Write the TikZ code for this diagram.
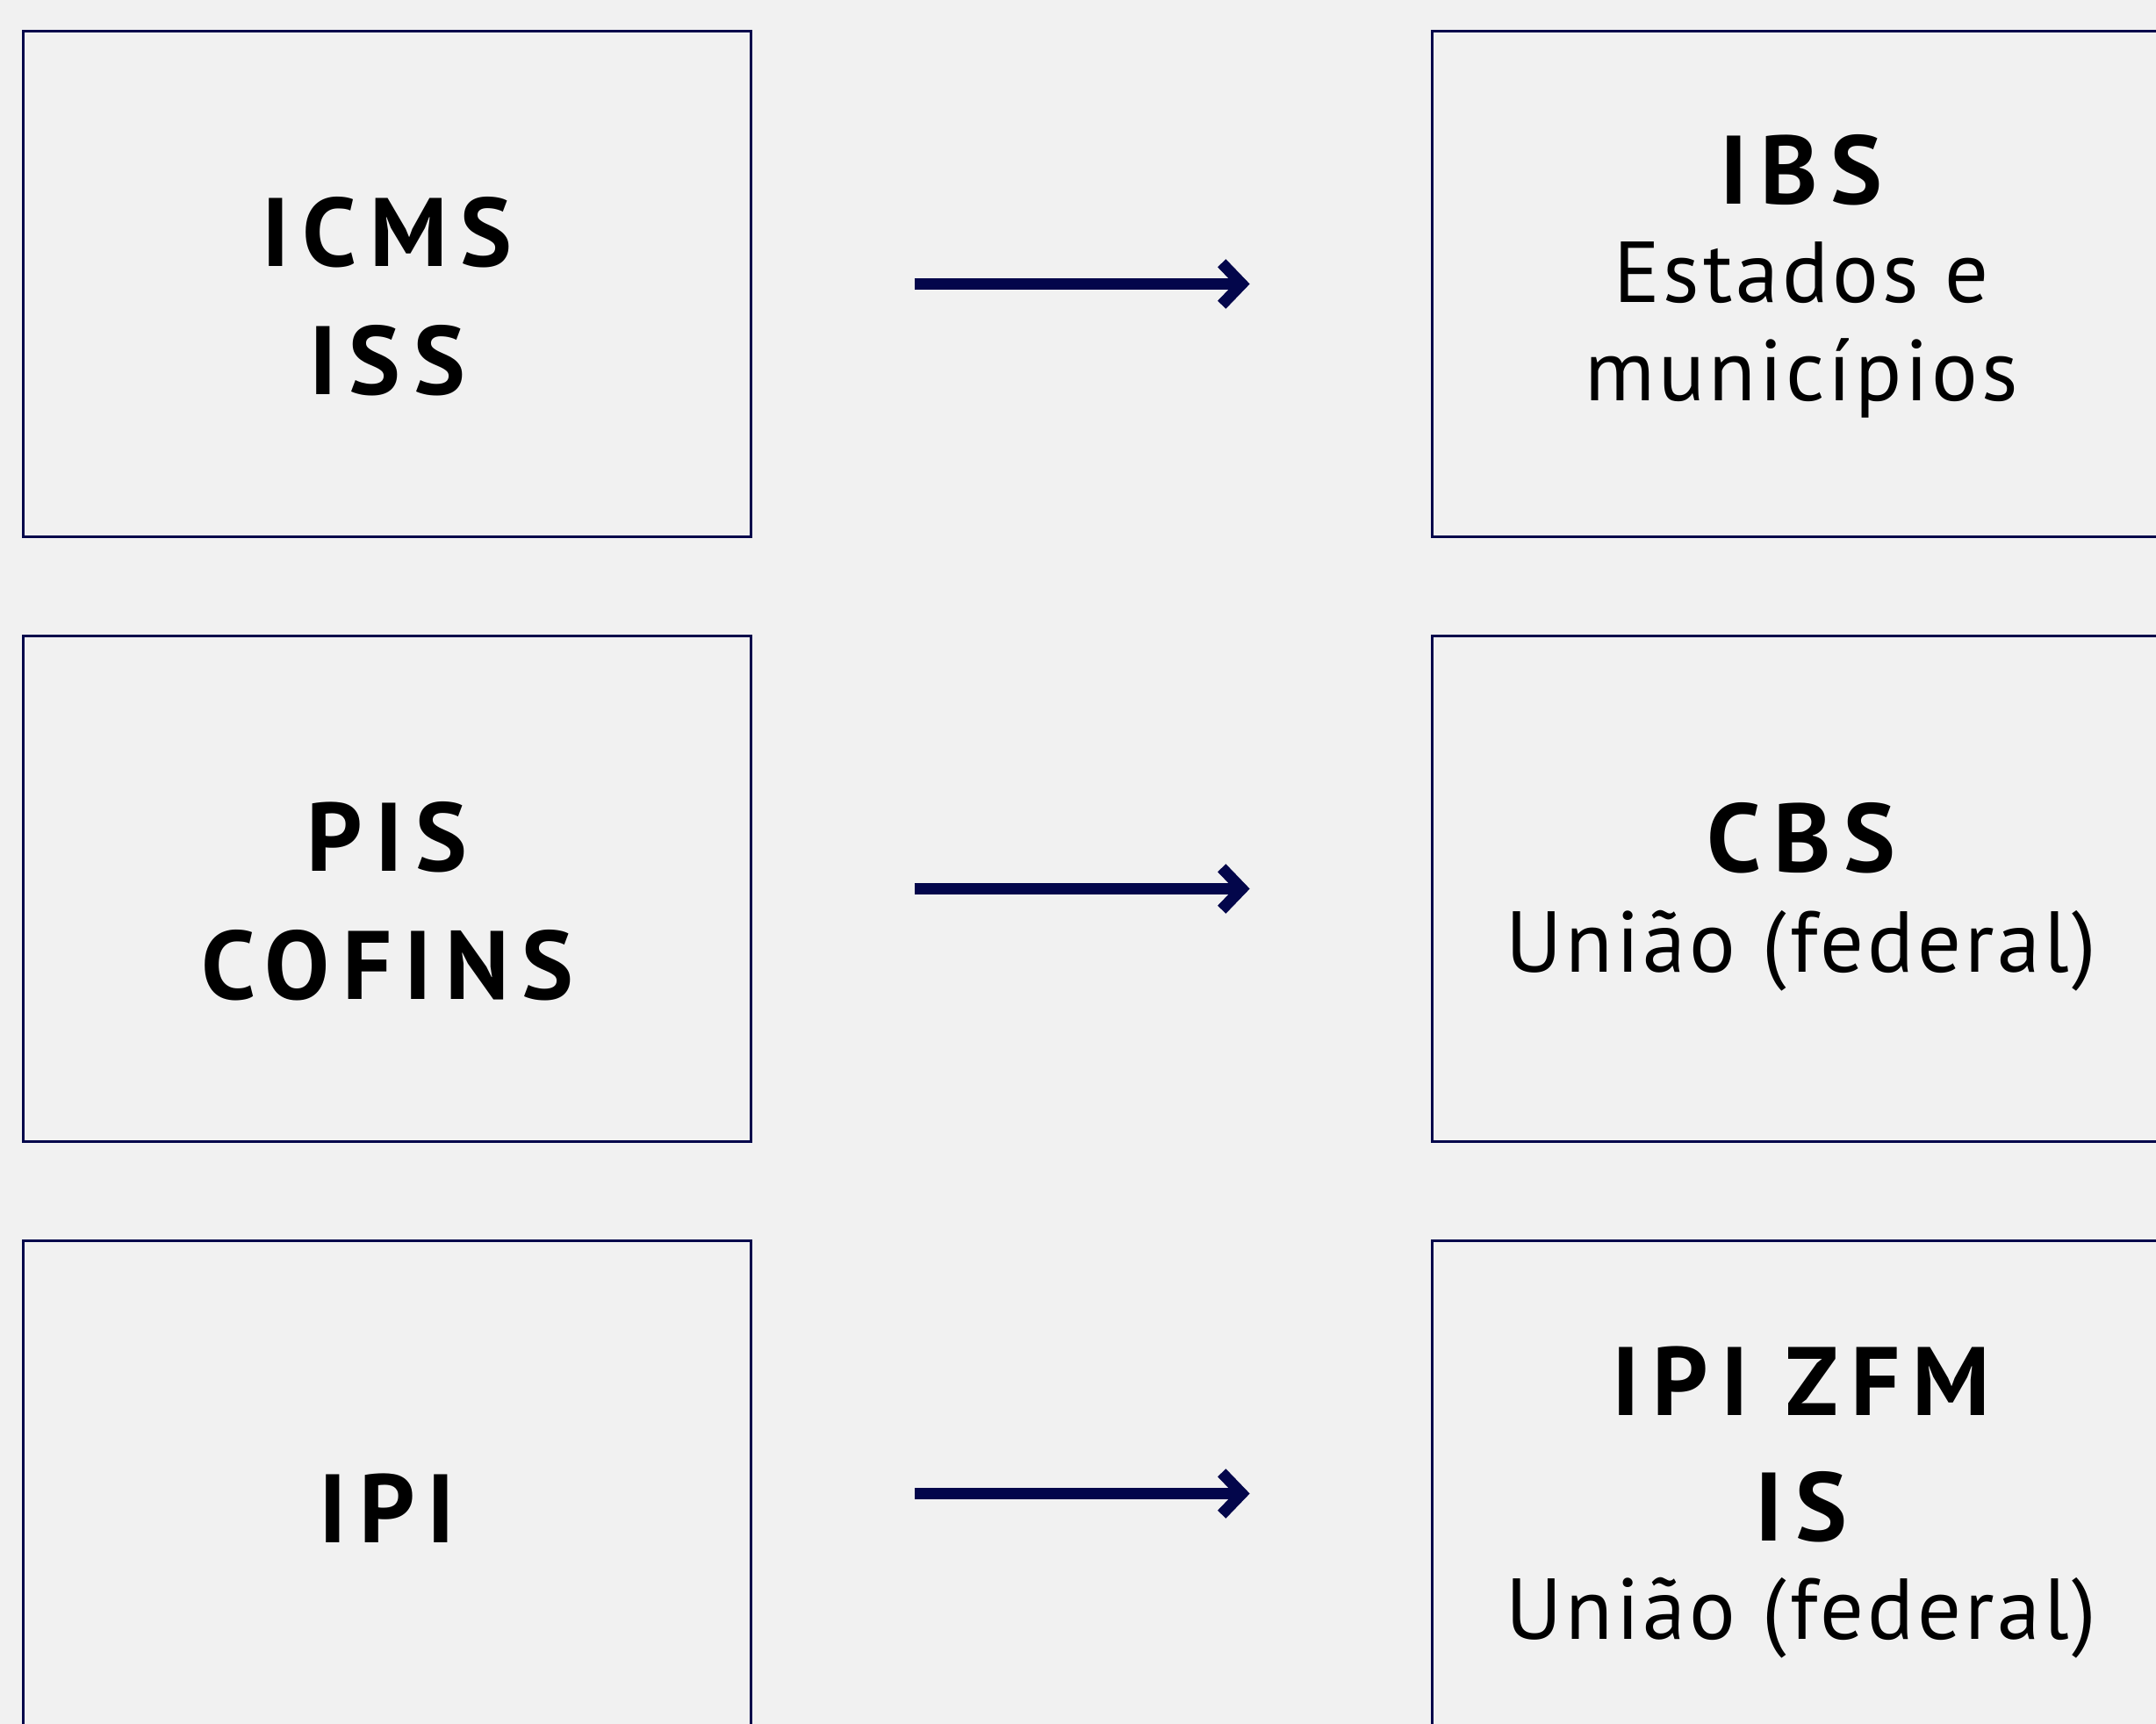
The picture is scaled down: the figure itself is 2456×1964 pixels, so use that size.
\documentclass[tikz,border=0pt]{standalone}
\usepackage{fontspec}
\setmainfont{PT Sans}[LetterSpace=4]
\newfontfamily\taxbold{PT Sans Bold}[LetterSpace=13]
\usetikzlibrary{arrows.meta}

\definecolor{taxnavy}{HTML}{03064B}
\definecolor{pagegray}{HTML}{F1F1F1}

\tikzset{
  taxbox/.style={draw=taxnavy, line width=0.9pt, minimum height=5.75cm,
    inner sep=0pt, outer sep=0pt},
  oldbox/.style={taxbox, minimum width=8.29cm},
  newbox/.style={taxbox, minimum width=8.40cm},
  taxname/.style={anchor=base, font=\fontsize{31.5}{36}\taxbold},
  taxwho/.style={anchor=base, font=\fontsize{28}{32}\selectfont},
  reform/.style={draw=taxnavy, line width=3.7pt,
    -{Straight Barb[length=6.5pt, width=13.5pt]},
    shorten <=1.86cm, shorten >=2.08cm}
}

\begin{document}
\begin{tikzpicture}[x=0.01cm, y=-0.01cm]

    % Page
    \useasboundingbox (0,0) rectangle (2456,1964);
    \fill[pagegray] (0,0) rectangle (2456,1964);

    % Boxes: current taxes (left) and new taxes (right)
    \node[oldbox] (old1) at (441,323.5) {};
    \node[oldbox] (old2) at (441,1012.5) {};
    \node[oldbox] (old3) at (441,1701.5) {};
    \node[newbox] (new1) at (2052,323.5) {};
    \node[newbox] (new2) at (2052,1012.5) {};
    \node[newbox] (new3) at (2052,1701.5) {};

    % Current taxes
    \node[taxname] (icms) at (441,304) {ICMS};
    \node[taxname] (iss) at (441,450) {ISS};
    \node[taxname] (pis) at (441,993) {PIS};
    \node[taxname] (cofins) at (441,1139) {COFINS};
    \node[taxname] (ipi) at (441,1757) {IPI};

    % New taxes
    \node[taxname] (ibs) at (2052,233) {IBS};
    \node[taxwho] (ibswho) at (2052,345) {Estados e};
    \node[taxwho] (ibswho2) at (2052,457) {municípios};
    \node[taxname] (cbs) at (2052,994) {CBS};
    \node[taxwho] (cbswho) at (2052,1107) {União (federal)};
    \node[taxname] (zfm) at (2052,1612) {IPI ZFM};
    \node[taxname] (is) at (2052,1755) {IS};
    \node[taxwho] (iswho) at (2052,1867) {União (federal)};

    % Transitions
    \foreach \i in {1,2,3}
      \draw[reform] (old\i.east) -- (new\i.west);

\end{tikzpicture}
\end{document}
